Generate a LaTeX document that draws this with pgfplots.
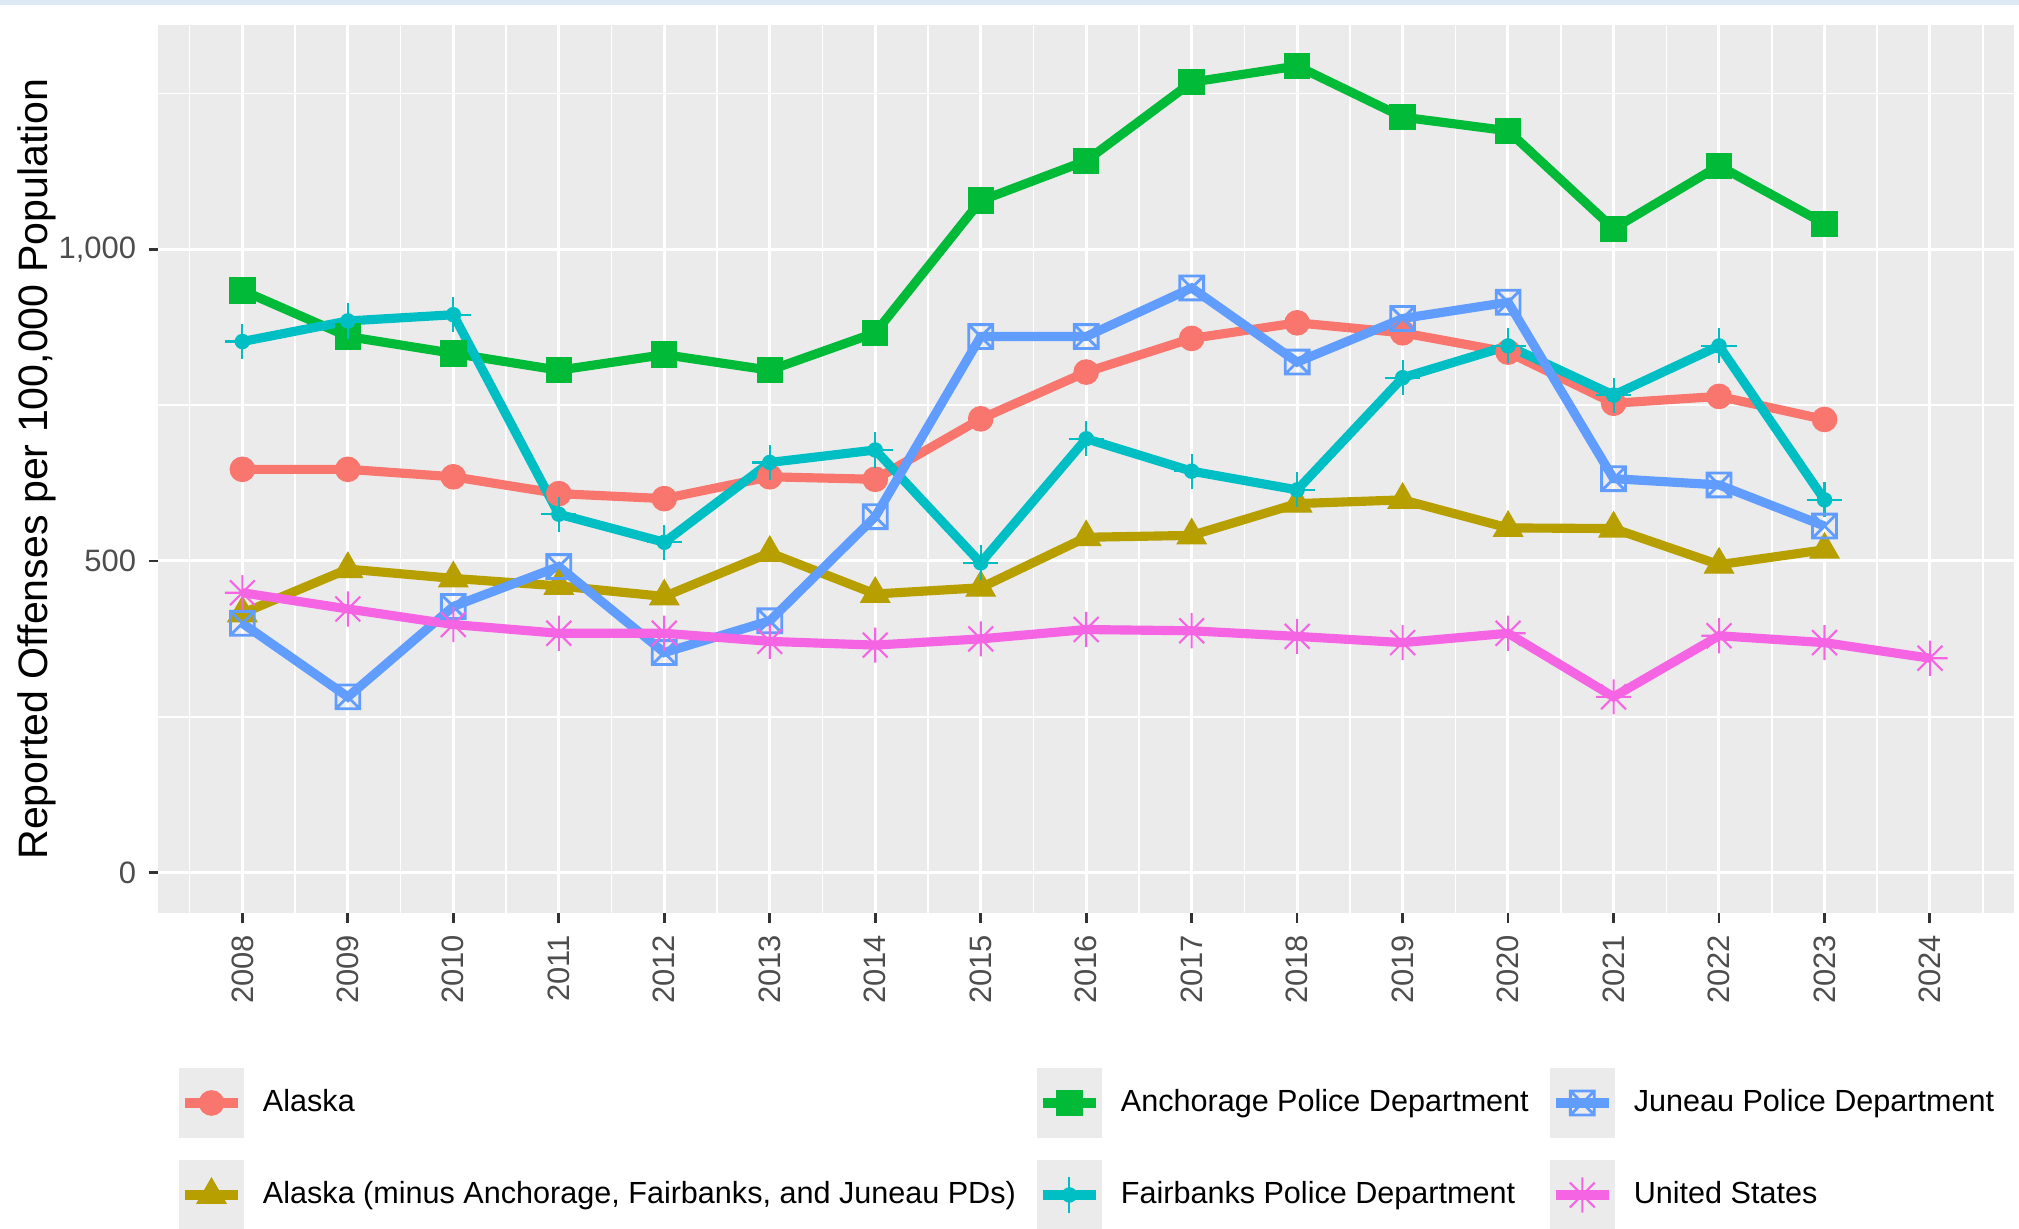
\documentclass[border=0pt]{standalone}
\usepackage{fontspec}
\setmainfont{Liberation Sans}
\usepackage{pgfplots}
\pgfplotsset{compat=1.18}
\usepackage{pgfplotstable}

\definecolor{akc}{HTML}{F8766D}
\definecolor{akmc}{HTML}{B79F00}
\definecolor{ancc}{HTML}{00BA38}
\definecolor{faic}{HTML}{00BFC4}
\definecolor{junc}{HTML}{619CFF}
\definecolor{usc}{HTML}{F564E3}
\definecolor{panel}{HTML}{EBEBEB}
\definecolor{ticktext}{HTML}{4D4D4D}
\definecolor{tickline}{HTML}{333333}
\definecolor{topbar}{HTML}{DDE9F5}

% square with a cross (ggplot shape 7)
\pgfdeclareplotmark{boxx}{%
  \pgfpathrectangle{\pgfqpoint{-\pgfplotmarksize}{-\pgfplotmarksize}}{\pgfqpoint{2\pgfplotmarksize}{2\pgfplotmarksize}}%
  \pgfpathmoveto{\pgfqpoint{-\pgfplotmarksize}{-\pgfplotmarksize}}\pgfpathlineto{\pgfqpoint{\pgfplotmarksize}{\pgfplotmarksize}}%
  \pgfpathmoveto{\pgfqpoint{-\pgfplotmarksize}{\pgfplotmarksize}}\pgfpathlineto{\pgfqpoint{\pgfplotmarksize}{-\pgfplotmarksize}}%
  \pgfusepathqstroke}
% eight-armed asterisk (ggplot shape 8)
\pgfdeclareplotmark{ast8}{%
  \pgfpathmoveto{\pgfqpoint{-\pgfplotmarksize}{0pt}}\pgfpathlineto{\pgfqpoint{\pgfplotmarksize}{0pt}}%
  \pgfpathmoveto{\pgfqpoint{0pt}{-\pgfplotmarksize}}\pgfpathlineto{\pgfqpoint{0pt}{\pgfplotmarksize}}%
  \pgfpathmoveto{\pgfqpoint{-0.707\pgfplotmarksize}{-0.707\pgfplotmarksize}}\pgfpathlineto{\pgfqpoint{0.707\pgfplotmarksize}{0.707\pgfplotmarksize}}%
  \pgfpathmoveto{\pgfqpoint{-0.707\pgfplotmarksize}{0.707\pgfplotmarksize}}\pgfpathlineto{\pgfqpoint{0.707\pgfplotmarksize}{-0.707\pgfplotmarksize}}%
  \pgfusepathqstroke}
% plus with a dot in the middle
\pgfdeclareplotmark{plusdot}{%
  \pgfpathmoveto{\pgfqpoint{-\pgfplotmarksize}{0pt}}\pgfpathlineto{\pgfqpoint{\pgfplotmarksize}{0pt}}%
  \pgfpathmoveto{\pgfqpoint{0pt}{-\pgfplotmarksize}}\pgfpathlineto{\pgfqpoint{0pt}{\pgfplotmarksize}}%
  \pgfusepathqstroke
  \pgfpathcircle{\pgfpointorigin}{0.38\pgfplotmarksize}\pgfusepathqfillstroke}

\pgfplotsset{
  akline/.style={akc, line width=2.6pt},
  akmark/.style={akc, mark=*, mark size=3.5pt, mark options={solid, line width=0.3pt, fill=akc}},
  akmline/.style={akmc, line width=2.6pt},
  akmmark/.style={akmc, mark=triangle*, mark size=4.8pt, mark options={solid, line width=0.3pt, fill=akmc}},
  ancline/.style={ancc, line width=2.6pt},
  ancmark/.style={ancc, mark=square*, mark size=3.6pt, mark options={solid, line width=0.3pt, fill=ancc}},
  failine/.style={faic, line width=2.6pt},
  faimark/.style={faic, mark=plusdot, mark size=5pt, mark options={solid, line width=0.6pt, fill=faic}},
  junline/.style={junc, line width=2.6pt},
  junmark/.style={junc, mark=boxx, mark size=3.4pt, mark options={solid, line width=0.8pt}},
  usline/.style={usc, line width=2.6pt},
  usmark/.style={usc, mark=ast8, mark size=5pt, mark options={solid, line width=0.6pt}},
}

% reported offenses per 100,000 population
\pgfplotstableread{
year ak   akm  anc   fai  jun  us
2008 647  416  934   852  400  449
2009 647  487  860   885  282  423
2010 635  472  833   895  427  398
2011 608  460  806   575  491  384
2012 600  443  831   530  353  384
2013 635  513  806   658  404  371
2014 631  447  866   678  571  365
2015 728  457  1078  497  860  375
2016 803  538  1142  696  860  390
2017 857  541  1268  644  938  388
2018 882  592  1294  614  819  379
2019 866  598  1212  794  889  369
2020 835  553  1190  845  915  384
2021 753  552  1033  766  632  282
2022 764  494  1134  845  622  380
2023 727  518  1041  598  556  369
2024 nan  nan  nan   nan  nan  344
}\rates

\begin{document}
\begin{tikzpicture}
\useasboundingbox (0,0) rectangle (20.19cm,-12.29cm);
\fill[topbar] (0,0) rectangle (20.19cm,-0.05cm);
\begin{axis}[
  at={(1.58cm,-9.13cm)}, anchor=south west,
  scale only axis, width=18.564cm, height=8.88cm,
  xmin=2007.2, xmax=2024.8, ymin=-64.75, ymax=1359.75,
  axis background/.style={fill=panel},
  axis line style={draw=none},
  xtick={2008,2009,...,2024},
  ytick={0,500,1000}, yticklabels={0,500,{1,000}},
  minor xtick={2007.5,2008.5,...,2024.5},
  minor ytick={250,750,1250},
  grid=both,
  major grid style={white, line width=0.85pt},
  minor grid style={white, line width=0.45pt},
  tick align=outside, tick pos=left,
  major tick length=0.095cm, minor tick length=0pt,
  tick style={tickline, line width=0.8pt},
  /pgf/number format/assume math mode=true,
  tick label style={font=\fontsize{8.8}{10}\selectfont, text=ticktext},
  x tick label style={rotate=90, anchor=east, /pgf/number format/1000 sep={}},
  ylabel={Reported Offenses per 100,000 Population},
  ylabel style={at={(axis description cs:-0.0595,0.5)}, rotate=0, anchor=base,
    font=\fontsize{11.7}{14}\selectfont, text=black},
  legend columns=3,
  legend cell align=left,
  legend style={at={(axis description cs:0.0113,-0.1745)}, anchor=north west,
    draw=none, fill=none, inner sep=0pt, outer sep=0pt,
    font=\fontsize{8.7}{10}\selectfont, row sep=0.22cm,
    nodes={inner sep=0pt},
    /tikz/every odd column/.style={column sep=0.19cm},
    /tikz/every even column/.style={column sep=0.21cm}},
  legend image code/.code={
    \fill[panel, draw=none] (0cm,-0.35cm) rectangle (0.65cm,0.35cm);
    \draw[mark repeat=2, mark phase=2] plot coordinates {(0.06cm,0cm) (0.325cm,0cm) (0.59cm,0cm)};
  },
]
% lines first, in ggplot's group order
\addplot[akline, forget plot] table[x=year, y=ak] {\rates};
\addplot[akmline, forget plot] table[x=year, y=akm] {\rates};
\addplot[ancline, forget plot] table[x=year, y=anc] {\rates};
\addplot[failine, forget plot] table[x=year, y=fai] {\rates};
\addplot[junline, forget plot] table[x=year, y=jun] {\rates};
\addplot[usline, forget plot] table[x=year, y=us] {\rates};
% then the points
\addplot[akmark, only marks, forget plot] table[x=year, y=ak] {\rates};
\addplot[akmmark, only marks, forget plot] table[x=year, y=akm] {\rates};
\addplot[ancmark, only marks, forget plot] table[x=year, y=anc] {\rates};
\addplot[faimark, only marks, forget plot] table[x=year, y=fai] {\rates};
\addplot[junmark, only marks, forget plot] table[x=year, y=jun] {\rates};
\addplot[usmark, only marks, forget plot] table[x=year, y=us] {\rates};
% legend, filled row by row
\addlegendimage{akline, akmark}\addlegendentry{Alaska}
\addlegendimage{ancline, ancmark}\addlegendentry{Anchorage Police Department}
\addlegendimage{junline, junmark}\addlegendentry{Juneau Police Department}
\addlegendimage{akmline, akmmark}\addlegendentry{Alaska (minus Anchorage, Fairbanks, and Juneau PDs)}
\addlegendimage{failine, faimark}\addlegendentry{Fairbanks Police Department}
\addlegendimage{usline, usmark}\addlegendentry{United States}
\end{axis}
\end{tikzpicture}
\end{document}
